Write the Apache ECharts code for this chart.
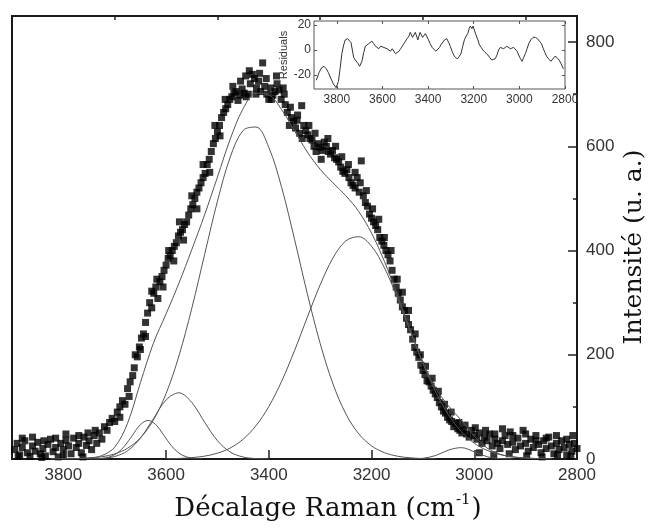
<!DOCTYPE html>
<html><head><meta charset="utf-8">
<script src="https://cdn.jsdelivr.net/npm/echarts@6/dist/echarts.min.js"></script>
<style>html,body{margin:0;padding:0;background:#fff}#c{width:663px;height:529px}</style>
</head><body><div id="c"></div>
<script>
// ---- measured points (Raman shift cm-1, intensity a.u.) ----
const dataPoints = [
[3895,18],[3890,30],[3885,8],[3880,22],[3875,35],[3870,12],[3865,5],[3860,25],[3855,15],[3850,32],
[3845,10],[3840,20],[3835,6],[3830,28],[3825,38],[3820,14],[3815,22],[3810,4],[3805,30],[3800,18],
[3795,36],[3790,25],[3785,10],[3780,40],[3775,22],[3770,30],[3765,12],[3760,42],[3755,26],[3750,35],
[3745,18],[3740,45],[3735,30],[3730,50],[3725,38],[3720,62],[3715,55],[3710,70],[3705,78],[3700,72],
[3695,90],[3690,100],[3685,112],[3680,105],[3675,135],[3670,148],[3665,160],[3660,200],[3656,196],[3652,215],
[3648,232],[3644,240],[3640,262],[3636,280],[3632,300],[3628,322],[3624,318],[3620,330],[3616,308],[3612,340],
[3608,350],[3604,362],[3600,372],[3596,385],[3592,390],[3588,400],[3584,408],[3580,415],[3576,428],[3572,435],
[3568,440],[3564,450],[3560,455],[3556,468],[3552,480],[3548,488],[3544,500],[3540,512],[3536,520],[3532,530],
[3528,540],[3524,548],[3520,565],[3516,575],[3512,590],[3508,605],[3504,615],[3500,628],[3496,640],[3492,655],
[3488,665],[3484,672],[3480,680],[3476,690],[3472,695],[3468,702],[3464,705],[3460,688],[3456,698],[3452,710],
[3448,702],[3444,695],[3440,700],[3436,720],[3432,738],[3428,730],[3424,712],[3420,725],[3416,705],[3412,760],
[3408,715],[3404,700],[3400,690],[3396,712],[3392,698],[3388,705],[3384,720],[3380,708],[3376,690],[3372,712],
[3368,680],[3364,665],[3360,640],[3356,655],[3352,648],[3348,635],[3344,660],[3340,625],[3336,678],[3332,640],
[3328,630],[3324,622],[3320,615],[3316,612],[3312,600],[3308,590],[3304,605],[3300,598],[3296,592],[3292,608],
[3288,600],[3284,590],[3280,585],[3276,592],[3272,578],[3268,575],[3264,570],[3260,560],[3256,552],[3252,548],
[3248,555],[3244,540],[3240,530],[3236,525],[3232,520],[3228,540],[3224,512],[3220,572],[3216,505],[3212,492],
[3208,485],[3204,470],[3200,462],[3196,455],[3192,448],[3188,440],[3184,425],[3180,418],[3176,410],[3172,400],
[3168,392],[3164,380],[3160,362],[3156,345],[3152,330],[3148,318],[3144,305],[3140,292],[3136,285],[3132,270],
[3128,258],[3124,248],[3120,230],[3116,214],[3112,205],[3108,195],[3104,180],[3100,170],[3096,162],[3092,150],
[3088,148],[3084,140],[3080,132],[3076,125],[3072,118],[3068,108],[3064,100],[3060,92],[3056,88],[3052,80],
[3048,75],[3044,72],[3040,62],[3036,68],[3032,58],[3028,55],[3024,50],[3020,56],[3015,48],[3010,42],
[3005,55],[3000,45],[2995,38],[2990,50],[2985,30],[2980,42],[2975,35],[2970,48],[2965,25],[2960,38],
[2955,30],[2950,20],[2945,35],[2940,45],[2935,28],[2930,52],[2925,32],[2920,18],[2915,40],[2910,25],
[2905,55],[2900,30],[2895,15],[2890,38],[2885,22],[2880,45],[2875,28],[2870,12],[2865,35],[2860,20],
[2855,42],[2850,25],[2845,10],[2840,30],[2835,18],[2830,35],[2825,22],[2820,8],[2815,28],[2810,15],
[2805,30],[2800,20]
];
// overlapping repeat measurements, off the main trend
const dataPointsExtra = [
[3880,40],[3860,42],[3838,35],[3815,40],[3795,48],[3770,45],[3752,50],[3738,55],[3888,5],[3842,3],[3800,5],[3762,4],
[3690,80],[3672,120],[3662,175],[3650,210],[3640,235],[3628,290],[3618,345],[3606,330],[3595,400],[3585,380],
[3574,455],[3566,420],[3550,505],[3540,480],[3528,565],[3515,550],[3505,640],[3495,620],[3485,690],[3470,715],
[3455,725],[3445,735],[3438,745],[3425,700],[3418,740],[3405,730],[3395,690],[3385,735],[3370,700],[3358,675],
[3345,650],[3335,615],[3322,640],[3310,625],[3298,575],[3285,615],[3270,600],[3258,580],[3245,565],[3232,550],
[3222,530],[3210,515],[3198,480],[3186,460],[3175,425],[3162,400],[3150,345],[3140,320],[3128,285],[3115,240],
[3105,200],[3095,178],[3082,155],[3070,130],[3058,105],[3045,90],[3030,70],[3018,65],[2998,60],[2978,55],
[2960,48],[2945,58],[2925,45],[2900,48],[2880,35],[2860,40],[2840,45],[2820,38],[2808,45],
[2990,12],[2962,8],[2932,10],[2898,6],[2868,4],[2838,8],[2812,5]
];

const fitX = [3825,3800,3775,3750,3725,3700,3675,3650,3625,3600,3575,3550,3525,3500,3475,3450,3425,3400,3375,3350,
              3325,3300,3275,3250,3225,3200,3175,3150,3125,3100,3075,3050,3025,3000,2975,2950,2925,2900,2875,2850];
const compA = [0.1,0.2,0.7,1.8,4.3,9.8,20.7,40.7,74.2,125.7,197.8,289,392.4,494.7,579.5,630.4,637,597.8,521,421.8,
               317,221.6,143.8,86.6,48.5,25.2,12.2,5.5,2.3,0.9,0.3,null,null,null,null,null,null,null,null,null];
const compB = [null,null,null,null,null,null,null,null,null,0.5,1.1,2.6,5.5,11.2,21.2,38,63.8,100.6,149.2,207.9,
               272,334.2,385.9,418.5,426.5,408.2,367,310,246,183.4,128.4,84.5,52.2,30.3,16.5,8.5,4.1,1.8,0.8,0.3];
const compC = [null,null,null,0.2,1.1,4.8,15.8,40,77,113.2,127,108.4,70.6,35.1,13.3,3.8,0.8,0.1,null,null,
               null,null,null,null,null,null,null,null,null,null,null,null,null,null,null,null,null,null,null,null];
const compE = [null,null,null,null,null,null,null,null,null,null,null,null,null,null,null,null,null,null,null,null,
               null,null,null,null,null,null,null,0,0.1,1.3,6.8,17.2,21.8,13.8,4.4,0.7,0.05,null,null,null];
const envelope = [0.1,0.2,0.7,2.1,6.5,22.8,68.7,146.5,221.4,278.5,337.3,401.7,468.6,541,614,672.2,701.6,698.5,670.2,629.7,
               589,555.8,529.7,505.1,475,433.4,379.2,315.5,248.4,185.6,135.5,101.7,74,44.1,20.9,9.2,4.1,1.8,0.8,0.3];
const compDX = [3740,3725,3710,3695,3680,3665,3650,3635,3620,3605,3590,3575,3560,3545,3530];
const compD  = [0.24,1.1,4.0,11.4,25.8,46.3,65.8,74,65.8,46.3,25.8,11.4,4.0,1.1,0.24];

// ---- residuals (inset) ----
const residX = [3890,3878,3866,3856,3846,3837,3825,3815,3803,3793,3785,3778,3770,3763,3753,3745,3738,3732,3726,3719,
 3712,3706,3700,3695,3690,3682,3675,3668,3660,3653,3646,3638,3631,3624,3616,3608,3601,3594,3587,3580,
 3572,3565,3557,3550,3543,3535,3528,3520,3513,3506,3499,3492,3484,3478,3474,3468,3462,3456,3450,3445,
 3440,3435,3429,3424,3418,3412,3406,3398,3391,3382,3374,3366,3359,3350,3344,3337,3328,3318,3310,3303,
 3295,3288,3280,3271,3263,3256,3248,3241,3233,3226,3220,3215,3208,3203,3196,3190,3182,3175,3167,3160,
 3150,3138,3130,3121,3113,3106,3098,3091,3084,3076,3069,3062,3055,3047,3040,3032,3025,3018,3010,3003,
 2995,2988,2981,2974,2966,2959,2950,2940,2930,2921,2912,2903,2895,2888,2881,2872,2862,2853,2844,2835,
 2826,2817,2807];
const residY = [-24,-18,-14,-13,-15,-18,-23,-27,-30,-25,-14,-3,4,8,9,8,6,0,-6,-8,
 -9,-11,-13,-12,-9,-2,3,4,5,6,7,5,3,4,1,3,4,2,3,1,
 0,-1,1,-1,-3,-2,-1,1,3,5,7,9,11,14,15,10,11,14,13,8,
 8,14,15,10,9,13,12,8,5,2,1,-1,0,2,4,5,8,9,6,3,
 -1,-4,-6,-7,-5,-3,3,8,11,13,17,19,17,19,15,12,8,4,2,0,
 -2,-4,-6,-8,-8,-7,-4,0,2,3,1,1,3,3,1,0,2,1,-1,-4,
 -7,-9,-6,-3,1,5,8,10,10,9,7,5,1,-2,-5,-7,-9,-7,-5,-6,
 -8,-11,-15];

// ---- axis ticks ----
const xMajor = [2800,3000,3200,3400,3600,3800];
const xMinor = [2900,3100,3300,3500,3700];
const yMajor = [0,200,400,600,800];
const yMinor = [100,300,500,700];
const insetXTicks = [2800,3000,3200,3400,3600,3800];
const insetYTicks = [-20,0,20];

const zip = (a,b)=>a.map((v,i)=>[v,b[i]]);
const plain = v => String(v);
const lineS = (xs, ys) => ({type:'line', xAxisIndex:0, yAxisIndex:0, data:zip(xs,ys), smooth:0.35,
  showSymbol:false, symbol:'none', connectNulls:false, lineStyle:{color:'#555', width:1}, z:4, silent:true});

const tickFont = {fontFamily:'Liberation Sans, Arial, sans-serif', color:'#333'};
const noLine = {show:false, onZero:false};
const chart = echarts.init(document.getElementById('c'));
chart.setOption({
  animation:false,
  backgroundColor:'#fff',
  grid:[
    {left:12, right:86, top:16, bottom:70, show:true, borderColor:'#1a1a1a', borderWidth:2, backgroundColor:'rgba(0,0,0,0)'},
    {left:314, top:21, width:251, height:68, show:true, borderColor:'#555', borderWidth:1, backgroundColor:'#fff', z:8}
  ],
  xAxis:[
    {gridIndex:0, type:'value', min:2800, max:3900, inverse:true, interval:100,
     axisLine:noLine, splitLine:{show:false},
     axisTick:{show:true, inside:true, length:9, customValues:xMajor, lineStyle:{color:'#222', width:1.5}},
     axisLabel:{customValues:xMajor, formatter:plain, fontSize:17, margin:8, ...tickFont}},
    {gridIndex:0, type:'value', min:2800, max:3900, inverse:true, interval:100,
     axisLine:noLine, splitLine:{show:false},
     axisTick:{show:true, inside:true, length:4, customValues:xMinor, lineStyle:{color:'#222', width:1.5}},
     axisLabel:{show:false}},
    {gridIndex:1, type:'value', position:'bottom', min:2800, max:3900, inverse:true, interval:100, z:9,
     axisLine:noLine, splitLine:{show:false},
     axisTick:{show:true, inside:true, length:3, customValues:insetXTicks, lineStyle:{color:'#555'}},
     axisLabel:{customValues:insetXTicks, formatter:plain, fontSize:12, margin:5, ...tickFont}},
    {gridIndex:1, type:'value', position:'top', min:2800, max:3900, inverse:true, interval:100, z:9,
     axisLine:noLine, splitLine:{show:false},
     axisTick:{show:true, inside:true, length:3, customValues:insetXTicks, lineStyle:{color:'#555'}},
     axisLabel:{show:false}}
  ],
  yAxis:[
    {gridIndex:0, type:'value', position:'right', min:0, max:850, interval:100,
     axisLine:noLine, splitLine:{show:false},
     axisTick:{show:true, inside:true, length:9, customValues:yMajor, lineStyle:{color:'#222', width:1.5}},
     axisLabel:{customValues:yMajor, formatter:plain, fontSize:17, margin:9, ...tickFont}},
    {gridIndex:0, type:'value', position:'right', min:0, max:850, interval:100,
     axisLine:noLine, splitLine:{show:false},
     axisTick:{show:true, inside:true, length:4, customValues:yMinor, lineStyle:{color:'#222', width:1.5}},
     axisLabel:{show:false}},
    {gridIndex:1, type:'value', position:'left', min:-31, max:23, interval:10, z:9,
     axisLine:noLine, splitLine:{show:false},
     axisTick:{show:true, inside:true, length:3, customValues:insetYTicks, lineStyle:{color:'#555'}},
     axisLabel:{customValues:insetYTicks, formatter:plain, fontSize:12, margin:3, ...tickFont},
     name:'Residuals', nameLocation:'middle', nameGap:25, nameRotate:90,
     nameTextStyle:{fontSize:11, fontFamily:'Liberation Sans, Arial, sans-serif', color:'#333'}},
    {gridIndex:1, type:'value', position:'right', min:-31, max:23, interval:10, z:9,
     axisLine:noLine, splitLine:{show:false},
     axisTick:{show:true, inside:true, length:3, customValues:insetYTicks, lineStyle:{color:'#555'}},
     axisLabel:{show:false}}
  ],
  series:[
    {type:'scatter', xAxisIndex:0, yAxisIndex:0, data:dataPoints, symbol:'rect', symbolSize:7,
     itemStyle:{color:'#000'}, z:3, silent:true},
    {type:'scatter', xAxisIndex:0, yAxisIndex:0, data:dataPointsExtra, symbol:'rect', symbolSize:7,
     itemStyle:{color:'#000'}, z:3, silent:true},
    lineS(fitX, envelope),
    lineS(fitX, compA),
    lineS(fitX, compB),
    lineS(fitX, compC),
    lineS(fitX, compE),
    lineS(compDX, compD),
    {type:'line', xAxisIndex:2, yAxisIndex:2, data:zip(residX, residY), showSymbol:false, symbol:'none',
     lineStyle:{color:'#333', width:1}, z:10, silent:true}
  ],
  graphic:[
    {type:'text', z:20, style:{x:328, y:506, align:'center', verticalAlign:'middle',
      text:'{a|Décalage Raman (cm}{s|-1}{a|)}',
      rich:{a:{fontFamily:'DejaVu Serif', fontSize:26, fill:'#111', lineHeight:32, verticalAlign:'bottom'},
            s:{fontFamily:'DejaVu Serif', fontSize:15, fill:'#111', lineHeight:32, verticalAlign:'top', padding:[3,1,0,1]}}}},
    {type:'text', z:20, rotation:Math.PI/2, x:634, y:247,
     style:{x:0, y:0, align:'center', verticalAlign:'middle', text:'Intensité (u. a.)',
      fontFamily:'DejaVu Serif', fontSize:25, fill:'#111'}}
  ]
});
</script></body></html>
